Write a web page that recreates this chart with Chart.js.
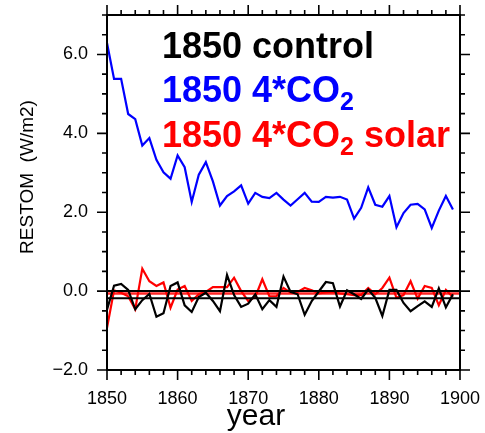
<!DOCTYPE html>
<html><head><meta charset="utf-8">
<script src="https://cdn.jsdelivr.net/npm/chart.js@4/dist/chart.umd.min.js"></script>
<style>html,body{margin:0;padding:0;background:#fff}#wrap{width:485px;height:433px;position:relative}</style>
</head><body><div id="wrap"><canvas id="c" width="485" height="433"></canvas></div>
<script>
// ---- data ----
const years = Array.from({length: 50}, (_, i) => 1850 + i);
const control1850 = [-0.47, 0.14, 0.18, 0.03, -0.46, -0.23, -0.07, -0.65, -0.56, 0.13,
  0.22, -0.36, -0.53, -0.15, -0.04, -0.25, -0.51, 0.41, -0.10, -0.40,
  -0.32, -0.08, -0.46, -0.23, -0.40, 0.37, -0.02, -0.08, -0.60, -0.25,
  -0.01, 0.23, 0.20, -0.39, 0.02, -0.08, -0.20, 0.04, -0.17, -0.63,
  0.03, 0.03, -0.30, -0.51, -0.38, -0.26, -0.40, 0.07, -0.41, -0.08];
const co2x4 = [6.29, 5.38, 5.38, 4.49, 4.36, 3.69, 3.88, 3.33, 3.01, 2.85,
  3.44, 3.14, 2.26, 2.95, 3.27, 2.78, 2.17, 2.41, 2.53, 2.68,
  2.22, 2.49, 2.39, 2.36, 2.49, 2.32, 2.17, 2.33, 2.49, 2.27,
  2.26, 2.39, 2.37, 2.39, 2.32, 1.84, 2.11, 2.63, 2.19, 2.14,
  2.41, 1.62, 1.98, 2.19, 2.21, 2.07, 1.60, 2.04, 2.41, 2.07];
const co2x4Solar = [-0.93, 0.02, -0.04, -0.13, -0.46, 0.57, 0.25, 0.13, 0.22, -0.42,
  0.04, 0.13, -0.25, -0.08, -0.02, 0.10, 0.10, 0.10, 0.34, 0.00,
  -0.25, -0.15, 0.30, -0.13, -0.13, 0.08, -0.04, -0.02, 0.08, 0.02,
  -0.06, -0.03, -0.02, -0.06, -0.08, -0.10, -0.10, 0.08, -0.08, 0.08,
  0.34, -0.17, -0.10, 0.25, -0.19, 0.13, 0.08, -0.36, 0.03, -0.15];
const blackLevels = [0, -0.18];
const redLevels = [-0.06];
const xRange = [1850, 1900];
const yRange = [-2, 7];
const xTickValues = [1850, 1860, 1870, 1880, 1890, 1900];
const yTickValues = [-2, 0, 2, 4, 6];
const legendLines = [
  {parts: [['1850 control', 0]], color: '#000000'},
  {parts: [['1850 4*CO', 0], ['2', 1]], color: '#0000ff'},
  {parts: [['1850 4*CO', 0], ['2', 1], [' solar', 0]], color: '#ff0000'}
];
const yTitle = 'RESTOM  (W/m2)';
const xTitle = 'year';

const FONT = '"Liberation Sans", Arial, Helvetica, sans-serif';
const pts = arr => years.map((y, i) => ({x: y, y: arr[i]}));
const level = v => [{x: xRange[0], y: v}, {x: xRange[1], y: v}];

const datasets = [];
blackLevels.forEach(v => datasets.push({data: level(v), borderColor: '#000', borderWidth: 2, pointRadius: 0}));
datasets.push({data: pts(control1850), borderColor: '#000', borderWidth: 2.2, pointRadius: 0});
redLevels.forEach(v => datasets.push({data: level(v), borderColor: 'rgba(255,0,0,0.85)', borderWidth: 2.5, pointRadius: 0}));
datasets.push({data: pts(co2x4Solar), borderColor: '#ff0000', borderWidth: 2.2, pointRadius: 0});
datasets.push({data: pts(co2x4), borderColor: '#0000ff', borderWidth: 2.2, pointRadius: 0});

const decor = {
  id: 'decor',
  afterDraw(chart) {
    const ctx = chart.ctx, a = chart.chartArea;
    const xs = chart.scales.x, ys = chart.scales.y;
    ctx.save();
    ctx.strokeStyle = '#000';
    ctx.lineWidth = 2;
    ctx.strokeRect(a.left, a.top, a.right - a.left, a.bottom - a.top);
    ctx.lineWidth = 1.6;
    ctx.beginPath();
    for (let v = xRange[0]; v <= xRange[1]; v += 2) {
      const L = (v % 10 === 0) ? 10 : 5;
      const px = xs.getPixelForValue(v);
      ctx.moveTo(px, a.bottom); ctx.lineTo(px, a.bottom + L);
      ctx.moveTo(px, a.top); ctx.lineTo(px, a.top - L);
    }
    for (let v = yRange[0]; v <= yRange[1] + 1e-9; v += 0.5) {
      const L = yTickValues.includes(v) ? 10 : 5;
      const py = ys.getPixelForValue(v);
      ctx.moveTo(a.left, py); ctx.lineTo(a.left - L, py);
      ctx.moveTo(a.right, py); ctx.lineTo(a.right + L, py);
    }
    ctx.stroke();
    // legend text
    const bases = [58, 102, 147];
    legendLines.forEach((ln, i) => {
      let x = 162;
      ctx.fillStyle = ln.color;
      ctx.textBaseline = 'alphabetic';
      ctx.textAlign = 'left';
      ln.parts.forEach(([t, sub]) => {
        ctx.font = sub ? 'bold 25px ' + FONT : 'bold 36px ' + FONT;
        ctx.fillText(t, x, bases[i] + (sub ? 8 : 0));
        x += ctx.measureText(t).width;
      });
    });
    // axis titles
    ctx.fillStyle = '#000';
    ctx.font = '30px ' + FONT;
    ctx.textAlign = 'center';
    ctx.fillText(xTitle, 256, 425);
    ctx.save();
    ctx.translate(33, 177);
    ctx.rotate(-Math.PI / 2);
    ctx.font = '19px ' + FONT;
    ctx.textAlign = 'center';
    ctx.fillText(yTitle, 0, 0);
    ctx.restore();
    ctx.restore();
  }
};

const zeroPad = s => { s.paddingTop = 0; s.paddingBottom = 0; s.paddingLeft = 0; s.paddingRight = 0; };

new Chart(document.getElementById('c'), {
  type: 'line',
  data: {datasets},
  options: {
    responsive: false, animation: false, devicePixelRatio: 1,
    layout: {padding: {left: 0, right: 25, top: 15, bottom: 0}},
    plugins: {legend: {display: false}, tooltip: {enabled: false}},
    scales: {
      x: {
        type: 'linear', min: xRange[0], max: xRange[1], bounds: 'data',
        afterBuildTicks: s => { s.ticks = xTickValues.map(v => ({value: v})); s.min = xRange[0]; s.max = xRange[1]; },
        afterFit: s => { s.height = 63; zeroPad(s); },
        grid: {display: false, drawTicks: false}, border: {display: false},
        ticks: {color: '#000', font: {family: FONT, size: 18}, padding: 18, maxRotation: 0, autoSkip: false,
          callback: v => String(v)}
      },
      y: {
        type: 'linear', min: yRange[0], max: yRange[1], bounds: 'data',
        afterBuildTicks: s => { s.ticks = yTickValues.map(v => ({value: v})); s.min = yRange[0]; s.max = yRange[1]; },
        afterFit: s => { s.width = 107; zeroPad(s); },
        grid: {display: false, drawTicks: false}, border: {display: false},
        ticks: {color: '#000', font: {family: FONT, size: 18}, padding: 19, autoSkip: false,
          callback: v => (v < 0 ? '\u2212' : '') + Math.abs(v).toFixed(1)}
      }
    }
  },
  plugins: [decor]
});
</script></body></html>
